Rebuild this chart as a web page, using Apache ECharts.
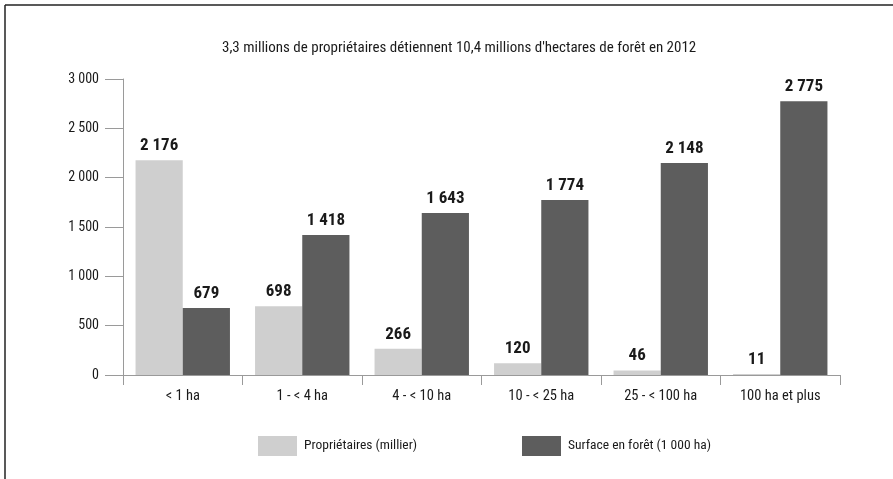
<!DOCTYPE html>
<html><head><meta charset="utf-8">
<script src="https://cdn.jsdelivr.net/npm/echarts@6/dist/echarts.min.js"></script>
<style>html,body{margin:0;padding:0;background:#fff}#c{width:893px;height:479px}</style>
</head><body><div id="c"></div>
<script>
const title = "3,3 millions de propriétaires détiennent 10,4 millions d'hectares de forêt en 2012";
const categories = ["< 1 ha", "1 - < 4 ha", "4 - < 10 ha", "10 - < 25 ha", "25 - < 100 ha", "100 ha et plus"];
const seriesNames = ["Propriétaires (millier)", "Surface en forêt (1 000 ha)"];
const proprietaires = [2176, 698, 266, 120, 46, 11];
const surface = [679, 1418, 1643, 1774, 2148, 2775];
const yMin = 0, yMax = 3000, yStep = 500;

const FONT = "'Roboto Condensed','DejaVu Sans Condensed',sans-serif";
const fmt = v => String(v).replace(/\B(?=(\d{3})+(?!\d))/g, ' ');
const colors = ['#cfcfcf', '#5d5d5d'];

const chart = echarts.init(document.getElementById('c'));
const labelCfg = {
  show: true, position: 'top', distance: 6,
  formatter: p => fmt(p.value),
  fontFamily: FONT, fontWeight: 'bold', fontSize: 17, color: '#1a1a1a'
};
chart.setOption({
  animation: false,
  title: { text: title, left: 217, top: 36,
    textStyle: { fontFamily: FONT, fontSize: 15, fontWeight: 'normal', color: '#1a1a1a' } },
  graphic: [
    { type: 'line', shape: { x1: 5, y1: 5, x2: 893, y2: 5 }, style: { stroke: '#222', lineWidth: 1.5 } },
    { type: 'line', shape: { x1: 5, y1: 5, x2: 5, y2: 479 }, style: { stroke: '#222', lineWidth: 1.5 } }
  ],
  legend: [
    { data: [seriesNames[0]], left: 253, top: 431, itemWidth: 39, itemHeight: 20, icon: 'rect', itemGap: 0,
      textStyle: { fontFamily: FONT, fontSize: 13.5, color: '#1a1a1a', padding: [0, 0, 0, 2] } },
    { data: [seriesNames[1]], left: 517, top: 431, itemWidth: 39, itemHeight: 20, icon: 'rect', itemGap: 0,
      textStyle: { fontFamily: FONT, fontSize: 13.5, color: '#1a1a1a', padding: [0, 0, 0, 2] } }
  ],
  grid: { left: 123, right: 53, top: 79, bottom: 104, containLabel: false },
  xAxis: {
    type: 'category', data: categories,
    axisLine: { lineStyle: { color: '#9a9a9a', width: 1 } },
    axisTick: { show: true, length: 10, lineStyle: { color: '#9a9a9a' } },
    axisLabel: { fontFamily: FONT, fontSize: 14.5, color: '#1a1a1a', margin: 14 }
  },
  yAxis: {
    type: 'value', min: yMin, max: yMax, interval: yStep,
    axisLine: { show: true, lineStyle: { color: '#9a9a9a', width: 1 } },
    axisTick: { show: true, length: 18, lineStyle: { color: '#9a9a9a' } },
    splitLine: { show: false },
    axisLabel: { fontFamily: FONT, fontSize: 14, color: '#1a1a1a', margin: 24, formatter: v => fmt(v) }
  },
  series: [
    { name: seriesNames[0], type: 'bar', data: proprietaires, barGap: '0%', barCategoryGap: '21%',
      itemStyle: { color: colors[0] }, label: labelCfg },
    { name: seriesNames[1], type: 'bar', data: surface, barGap: '0%', barCategoryGap: '21%',
      itemStyle: { color: colors[1] }, label: labelCfg }
  ]
});
</script></body></html>
